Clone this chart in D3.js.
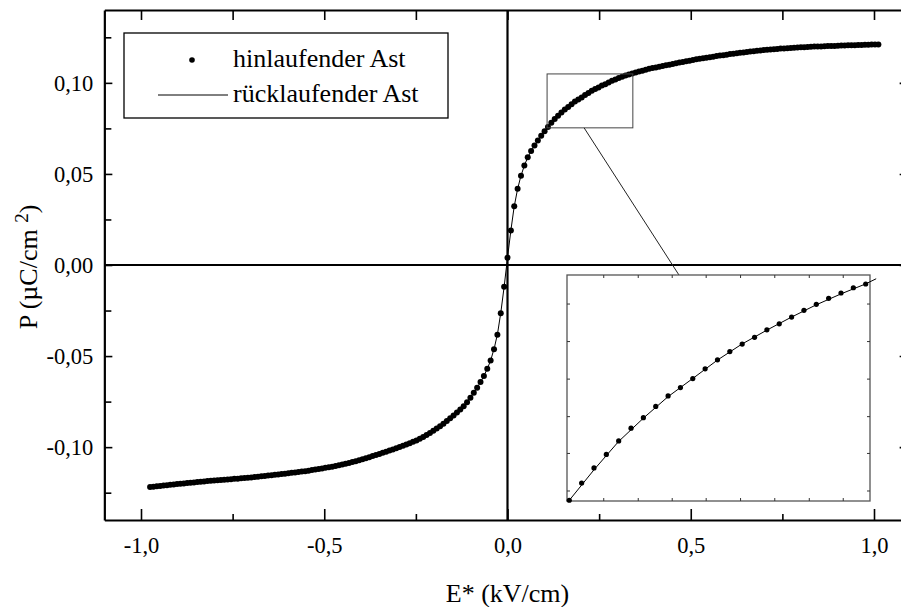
<!DOCTYPE html>
<html><head><meta charset="utf-8">
<script src="https://cdn.jsdelivr.net/npm/d3@7"></script>
<style>body{margin:0;background:#fff} svg text{font-family:"Liberation Serif","Tinos","Times New Roman","DejaVu Serif",serif;}</style>
</head><body>
<svg id="c" width="901" height="607"></svg>
<script>
// ---- data ----
const E = [
-0.9752,-0.966,-0.9568,-0.9476,-0.9384,-0.9292,-0.92,-0.9108,-0.9016,-0.8924,
-0.8832,-0.874,-0.8648,-0.8556,-0.8464,-0.8372,-0.828,-0.8188,-0.8096,-0.8004,
-0.7912,-0.782,-0.7728,-0.7636,-0.7544,-0.7452,-0.736,-0.7268,-0.7176,-0.7084,
-0.6992,-0.69,-0.6808,-0.6716,-0.6624,-0.6532,-0.644,-0.6348,-0.6256,-0.6164,
-0.6072,-0.598,-0.5888,-0.5796,-0.5704,-0.5612,-0.552,-0.5428,-0.5336,-0.5244,
-0.5152,-0.506,-0.4968,-0.4876,-0.4784,-0.4692,-0.46,-0.4508,-0.4416,-0.4324,
-0.4232,-0.414,-0.4048,-0.3956,-0.3864,-0.3772,-0.368,-0.3588,-0.3496,-0.3404,
-0.3312,-0.322,-0.3128,-0.3036,-0.2944,-0.2852,-0.276,-0.2668,-0.2576,-0.2484,
-0.2392,-0.23,-0.2208,-0.2116,-0.2024,-0.1932,-0.184,-0.1748,-0.1656,-0.1564,
-0.1472,-0.138,-0.1288,-0.1196,-0.1104,-0.1012,-0.092,-0.0828,-0.0736,-0.0644,
-0.0552,-0.046,-0.0368,-0.0276,-0.0184,-0.0092,0,0.0092,0.0184,0.0276,
0.0368,0.046,0.0552,0.0644,0.0736,0.0828,0.092,0.1012,0.1104,0.1196,
0.1288,0.138,0.1472,0.1564,0.1656,0.1748,0.184,0.1932,0.2024,0.2116,
0.2208,0.23,0.2392,0.2484,0.2576,0.2668,0.276,0.2852,0.2944,0.3036,
0.3128,0.322,0.3312,0.3404,0.3496,0.3588,0.368,0.3772,0.3864,0.3956,
0.4048,0.414,0.4232,0.4324,0.4416,0.4508,0.46,0.4692,0.4784,0.4876,
0.4968,0.506,0.5152,0.5244,0.5336,0.5428,0.552,0.5612,0.5704,0.5796,
0.5888,0.598,0.6072,0.6164,0.6256,0.6348,0.644,0.6532,0.6624,0.6716,
0.6808,0.69,0.6992,0.7084,0.7176,0.7268,0.736,0.7452,0.7544,0.7636,
0.7728,0.782,0.7912,0.8004,0.8096,0.8188,0.828,0.8372,0.8464,0.8556,
0.8648,0.874,0.8832,0.8924,0.9016,0.9108,0.92,0.9292,0.9384,0.9476,
0.9568,0.966,0.9752,0.9844,0.9936,1.0028,1.012];
const P_hin = [
-0.1219,-0.1217,-0.1215,-0.1213,-0.1211,-0.1209,-0.1207,-0.1205,-0.1203,-0.1201,
-0.1199,-0.1197,-0.1196,-0.1194,-0.1192,-0.1190,-0.1188,-0.1186,-0.1185,-0.1183,
-0.1182,-0.1180,-0.1179,-0.1177,-0.1176,-0.1174,-0.1173,-0.1171,-0.1169,-0.1168,
-0.1166,-0.1164,-0.1162,-0.1160,-0.1158,-0.1156,-0.1154,-0.1152,-0.1150,-0.1148,
-0.1146,-0.1144,-0.1141,-0.1139,-0.1137,-0.1134,-0.1132,-0.1129,-0.1126,-0.1123,
-0.1120,-0.1117,-0.1113,-0.1110,-0.1107,-0.1103,-0.1099,-0.1095,-0.1091,-0.1087,
-0.1082,-0.1077,-0.1072,-0.1066,-0.1061,-0.1055,-0.1049,-0.1043,-0.1037,-0.1031,
-0.1025,-0.1019,-0.1013,-0.1006,-0.0999,-0.0992,-0.0985,-0.0978,-0.0971,-0.0963,
-0.0954,-0.0944,-0.0933,-0.0922,-0.0910,-0.0898,-0.0885,-0.0871,-0.0857,-0.0842,
-0.0826,-0.0810,-0.0793,-0.0775,-0.0753,-0.0729,-0.0702,-0.0674,-0.0643,-0.0610,
-0.0570,-0.0524,-0.0463,-0.0383,-0.0265,-0.0120,0.0040,0.0190,0.0322,0.0418,
0.0490,0.0546,0.0591,0.0626,0.0656,0.0684,0.0710,0.0735,0.0758,0.0781,
0.0801,0.0819,0.0837,0.0854,0.0868,0.0883,0.0897,0.0908,0.0920,0.0933,
0.0945,0.0956,0.0966,0.0975,0.0985,0.0993,0.1002,0.1011,0.1019,0.1027,
0.1034,0.1041,0.1046,0.1052,0.1057,0.1063,0.1067,0.1072,0.1077,0.1081,
0.1085,0.1089,0.1093,0.1097,0.1100,0.1104,0.1108,0.1112,0.1115,0.1119,
0.1122,0.1126,0.1129,0.1132,0.1135,0.1138,0.1141,0.1144,0.1147,0.1150,
0.1152,0.1155,0.1158,0.1160,0.1163,0.1165,0.1167,0.1169,0.1172,0.1174,
0.1176,0.1178,0.1180,0.1182,0.1183,0.1185,0.1186,0.1188,0.1189,0.1190,
0.1192,0.1193,0.1194,0.1195,0.1196,0.1197,0.1198,0.1199,0.1199,0.1200,
0.1201,0.1202,0.1203,0.1203,0.1204,0.1205,0.1205,0.1206,0.1206,0.1207,
0.1208,0.1208,0.1209,0.1209,0.1210,0.1210,0.1210];
const E_rueck = [-0.975,-0.9,-0.8,-0.7,-0.6,-0.5,-0.4,-0.3,-0.25,-0.2,
-0.16,-0.13,-0.11,-0.09,-0.07,-0.055,-0.045,-0.035,-0.027,-0.018,
-0.009,0,0.009,0.018,0.027,0.036,0.046,0.055,0.064,0.074,
0.083,0.092,0.101,0.110,0.129,0.147,0.166,0.184,0.203,0.221,
0.239,0.258,0.276,0.294,0.313,0.331,0.339,0.4,0.5,0.6,
0.7,0.8,0.9,1.0,1.012];
const P_rueck = [-0.1219,-0.1203,-0.1183,-0.1166,-0.1144,-0.1114,-0.1069,-0.1003,-0.0965,-0.0906,
-0.0848,-0.0795,-0.0752,-0.0697,-0.0630,-0.0570,-0.0518,-0.0447,-0.0375,-0.0258,
-0.0117,0.0040,0.0187,0.0318,0.0412,0.0485,0.0546,0.0590,0.0624,0.0657,
0.0685,0.0710,0.0734,0.0757,0.0799,0.0836,0.0868,0.0896,0.0921,0.0945,
0.0966,0.0985,0.1002,0.1018,0.1033,0.1046,0.1053,0.1081,0.1124,0.1156,
0.1180,0.1195,0.1204,0.1210,0.1210];

const xMajor = [-1, -0.5, 0, 0.5, 1];
const xMinor = [-0.75, -0.25, 0.25, 0.75];
const xLabels = ["-1,0", "-0,5", "0,0", "0,5", "1,0"];
const yMajor = [-0.10, -0.05, 0, 0.05, 0.10];
const yMinor = [-0.125, -0.075, -0.025, 0.025, 0.075, 0.125];
const yLabels = ["-0,10", "-0,05", "0,00", "0,05", "0,10"];
const legendLabels = ["hinlaufender Ast", "rücklaufender Ast"];
const xTitle = "E* (kV/cm)";

const zoomBoxE = [0.108, 0.342];
const zoomBoxP = [0.0753, 0.1049];
const insetE = [0.1087, 0.3344];
const insetP = [0.0757, 0.1058];
const insetETicks = [0.1357, 0.1614, 0.1867, 0.2120, 0.2376, 0.2631, 0.2888, 0.3141];
const insetPTicks = [0.0771, 0.0821, 0.0870, 0.0920, 0.0970, 0.1020];
const connectorFrom = [0.209, 0.0753];   // main-chart coords
const connectorTo = [0.1921, 0.1058];    // inset coords

// ---- drawing ----
const FONT = '"Liberation Serif","Tinos","Times New Roman","DejaVu Serif",serif';
const svg = d3.select("#c");
svg.append("rect").attr("width", 901).attr("height", 607).attr("fill", "#fff");

const x = d3.scaleLinear().domain([-1.1, 1.1]).range([104.35, 910.65]);
const y = d3.scaleLinear().domain([-0.14, 0.14]).range([520, 10]);

const hin = E.map((e, i) => [e, P_hin[i]]);
const rueck = E_rueck.map((e, i) => [e, P_rueck[i]]);

// zero lines
svg.append("line").attr("x1", x(-1.1)).attr("x2", x(1.1)).attr("y1", y(0)).attr("y2", y(0))
  .attr("stroke", "#000").attr("stroke-width", 2.2);
svg.append("line").attr("x1", x(0)).attr("x2", x(0)).attr("y1", y(0.14)).attr("y2", y(-0.14))
  .attr("stroke", "#000").attr("stroke-width", 2.2);

function styleAxis(g, w) {
  g.attr("font-family", null);
  g.select(".domain").attr("stroke", "#000").attr("stroke-width", w);
  g.selectAll(".tick line").attr("stroke", "#000").attr("stroke-width", 1.6);
}
// bottom
let g = svg.append("g").attr("transform", `translate(0,${y(-0.14)})`)
  .call(d3.axisBottom(x).tickValues(xMajor).tickSize(-11).tickSizeOuter(0).tickPadding(17)
    .tickFormat((d, i) => xLabels[i]));
styleAxis(g, 2.2);
g.selectAll("text").style("font-family", FONT).attr("font-size", 22.5).attr("fill", "#000");
g = svg.append("g").attr("transform", `translate(0,${y(-0.14)})`)
  .call(d3.axisBottom(x).tickValues(xMinor).tickSize(-6).tickSizeOuter(0).tickFormat(""));
styleAxis(g, 0); g.select(".domain").remove();
// top
g = svg.append("g").attr("transform", `translate(0,${y(0.14)})`)
  .call(d3.axisTop(x).tickValues(xMajor.concat(xMinor)).tickSize(-10).tickSizeOuter(0).tickFormat(""));
styleAxis(g, 2.2);
// left
g = svg.append("g").attr("transform", `translate(${x(-1.1)},0)`)
  .call(d3.axisLeft(y).tickValues(yMajor).tickSize(-8).tickSizeOuter(0).tickPadding(11)
    .tickFormat((d, i) => yLabels[i]));
styleAxis(g, 2.2);
g.selectAll("text").style("font-family", FONT).attr("font-size", 22.5).attr("fill", "#000").attr("dy", "0.34em");
g = svg.append("g").attr("transform", `translate(${x(-1.1)},0)`)
  .call(d3.axisLeft(y).tickValues(yMinor).tickSize(-7).tickSizeOuter(0).tickFormat(""));
styleAxis(g, 0); g.select(".domain").remove();
// right
g = svg.append("g").attr("transform", `translate(${x(1.1)},0)`)
  .call(d3.axisRight(y).tickValues(yMajor).tickSize(-11).tickSizeOuter(0).tickFormat(""));
styleAxis(g, 2.2);
g = svg.append("g").attr("transform", `translate(${x(1.1)},0)`)
  .call(d3.axisRight(y).tickValues(yMinor).tickSize(-6).tickSizeOuter(0).tickFormat(""));
styleAxis(g, 0); g.select(".domain").remove();

// axis titles
svg.append("text").attr("x", x(0)).attr("y", 602).attr("text-anchor", "middle")
  .style("font-family", FONT).attr("font-size", 26).text(xTitle);
const yt = svg.append("text").attr("transform", "translate(37,267) rotate(-90)")
  .attr("text-anchor", "middle").style("font-family", FONT).attr("font-size", 26);
yt.append("tspan").text("P (\u00B5C/cm ");
yt.append("tspan").attr("font-size", 19).attr("dy", -9).text("2");
yt.append("tspan").attr("dy", 9).text(")");

// data
const line = d3.line().x(d => x(d[0])).y(d => y(d[1]));
svg.append("path").datum(rueck).attr("d", line).attr("fill", "none").attr("stroke", "#000").attr("stroke-width", 1);
svg.append("g").selectAll("circle").data(hin).join("circle")
  .attr("cx", d => x(d[0])).attr("cy", d => y(d[1])).attr("r", 3).attr("fill", "#000");

// zoom rectangle
svg.append("rect").attr("x", x(zoomBoxE[0])).attr("y", y(zoomBoxP[1]))
  .attr("width", x(zoomBoxE[1]) - x(zoomBoxE[0])).attr("height", y(zoomBoxP[0]) - y(zoomBoxP[1]))
  .attr("fill", "none").attr("stroke", "#444").attr("stroke-width", 1);

// inset
const ix = d3.scaleLinear().domain(insetE).range([567, 870]);
const iy = d3.scaleLinear().domain(insetP).range([501, 275]);
svg.append("line").attr("x1", x(connectorFrom[0])).attr("y1", y(connectorFrom[1]))
  .attr("x2", ix(connectorTo[0])).attr("y2", iy(connectorTo[1])).attr("stroke", "#222").attr("stroke-width", 1);
svg.append("rect").attr("x", 567).attr("y", 275).attr("width", 303).attr("height", 226)
  .attr("fill", "#fff").attr("stroke", "#555").attr("stroke-width", 1.3);
function insetAxis(axis, tr) {
  const a = svg.append("g").attr("transform", tr).call(axis.tickSize(-3).tickSizeOuter(0).tickFormat(""));
  a.select(".domain").remove();
  a.selectAll(".tick line").attr("stroke", "#333").attr("stroke-width", 1);
}
insetAxis(d3.axisBottom(ix).tickValues(insetETicks), "translate(0,501)");
insetAxis(d3.axisTop(ix).tickValues(insetETicks), "translate(0,275)");
insetAxis(d3.axisLeft(iy).tickValues(insetPTicks), "translate(567,0)");
insetAxis(d3.axisRight(iy).tickValues(insetPTicks), "translate(870,0)");
const iline = d3.line().x(d => ix(d[0])).y(d => iy(d[1]));
svg.append("path").datum(rueck.filter(d => d[0] >= zoomBoxE[0] && d[0] <= zoomBoxE[1]))
  .attr("d", iline).attr("fill", "none").attr("stroke", "#000").attr("stroke-width", 1);
svg.append("g").selectAll("circle")
  .data(hin.filter(d => d[0] >= insetE[0] && d[0] <= insetE[1])).join("circle")
  .attr("cx", d => ix(d[0])).attr("cy", d => iy(d[1])).attr("r", 2.6).attr("fill", "#000");

// legend
const lg = svg.append("g");
lg.append("rect").attr("x", 124).attr("y", 33).attr("width", 324).attr("height", 85)
  .attr("fill", "#fff").attr("stroke", "#000").attr("stroke-width", 1.3);
lg.append("circle").attr("cx", 192).attr("cy", 60).attr("r", 2.8).attr("fill", "#000");
lg.append("line").attr("x1", 158).attr("x2", 228).attr("y1", 95).attr("y2", 95).attr("stroke", "#000").attr("stroke-width", 1);
lg.selectAll("text.l").data(legendLabels).join("text").attr("class", "l")
  .attr("x", 233).attr("y", (d, i) => i === 0 ? 67 : 102)
  .style("font-family", FONT).attr("font-size", 26).text(d => d);
</script>
</body></html>
